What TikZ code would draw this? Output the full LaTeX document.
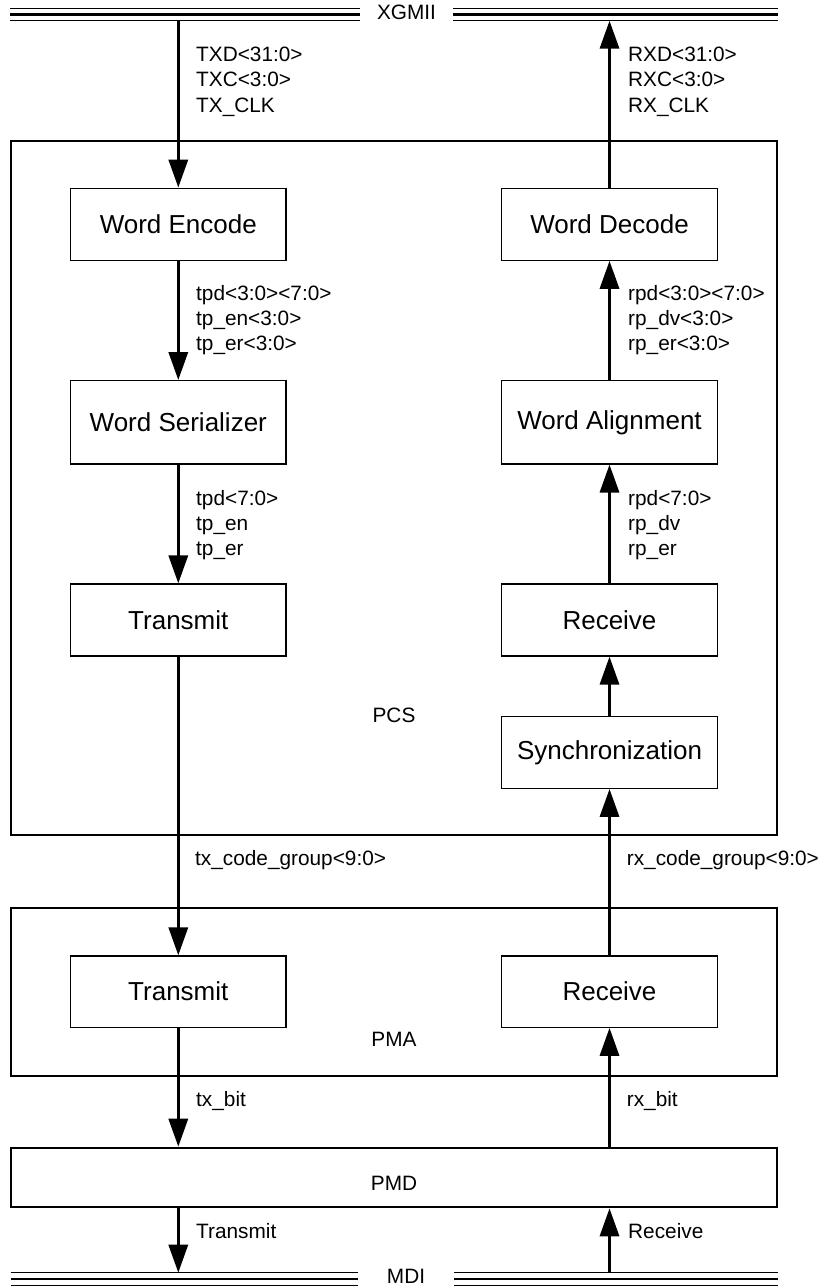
\documentclass[tikz,border=0pt]{standalone}
\usepackage{fontspec}
\setmainfont{Liberation Sans}
\usetikzlibrary{arrows.meta}
\begin{document}
\begin{tikzpicture}[x=1pt,y=-1pt,
  blk/.style={draw, line width=1.2pt, minimum width=215.5pt, minimum height=72pt,
              inner sep=0pt, font=\fontsize{26}{30}\selectfont},
  layer/.style={draw, line width=2pt, inner sep=0pt, minimum width=766.6pt},
  sigl/.style={anchor=base west, inner sep=0pt, font=\fontsize{20.8}{25}\selectfont},
  ttl/.style={anchor=base, inner sep=0pt, font=\fontsize{20.8}{25}\selectfont},
  sig/.style={line width=3.3pt, -{Triangle[length=28pt,width=19pt]}},
]
\useasboundingbox (0,0) rectangle (825,1287);

% interface buses (triple rails)
\foreach \yy/\w in {8.3/1.3, 14.7/2.7, 20.7/1.3}{
  \draw[line width=\w pt] (10,\yy) -- (360,\yy) (453.3,\yy) -- (778,\yy);
}
\foreach \yy/\w in {1272.7/1.3, 1279/2.7, 1285.3/1.3}{
  \draw[line width=\w pt] (10.7,\yy) -- (358.3,\yy) (454,\yy) -- (778.3,\yy);
}
\node[ttl] (xgmii) at (406.5,20) {XGMII};
\node[ttl] (mdi) at (406,1283.3) {MDI};
\coordinate (xgT) at (178.3,20.7);
\coordinate (xgR) at (609.5,20.7);
\coordinate (mdT) at (178.3,1272.7);
\coordinate (mdR) at (609.5,1272.7);

% layer frames
\node[layer, minimum height=694.3pt] (pcs) at (394,487.85) {};
\node[layer, minimum height=168pt] (pma) at (394,991.7) {};
\node[layer, minimum height=59.6pt] (pmd) at (394,1177.5) {};
\node[ttl] (pcsl) at (394,722.7) {PCS};
\node[ttl] (pmal) at (394,1046) {PMA};
\node[ttl] (pmdl) at (394,1190) {PMD};

% transmit path blocks
\node[blk] (we) at (178.3,224.2) {Word Encode};
\node[blk, minimum height=83.3pt] (ws) at (178.3,422.3) {Word Serializer};
\node[blk] (tp) at (178.3,620) {Transmit};
\node[blk, minimum height=71.3pt] (pT) at (178.3,991.6) {Transmit};

% receive path blocks
\node[blk] (wd) at (609.5,224.2) {Word Decode};
\node[blk, minimum height=83.3pt] (wa) at (609.5,422.3) {Word Alignment};
\node[blk] (rc) at (609.5,620) {Receive};
\node[blk] (sy) at (609.5,752.3) {Synchronization};
\node[blk, minimum height=71.3pt] (pR) at (609.5,991.6) {Receive};

% transmit connectors
\draw[sig] (xgT) -- (we.north);
\draw[sig] (we.south) -- (ws.north);
\draw[sig] (ws.south) -- (tp.north);
\draw[sig] (tp.south) -- (pT.north);
\draw[sig] (pT.south) -- (pT.south |- pmd.north);
\draw[sig] (pT.south |- pmd.south) -- (mdT);

% receive connectors
\draw[sig] (wd.north) -- (xgR);
\draw[sig] (wa.north) -- (wd.south);
\draw[sig] (rc.north) -- (wa.south);
\draw[sig] (sy.north) -- (rc.south);
\draw[sig] (pR.north) -- (sy.south);
\draw[sig] (pR.south |- pmd.north) -- (pR.south);
\draw[sig] (mdR) -- (pR.south |- pmd.south);

% transmit signal names
\node[sigl] (t1a) at (196,61.7) {TXD<31:0>};
\node[sigl] (t1b) at (196,87) {TXC<3:0>};
\node[sigl] (t1c) at (196,112.3) {TX\_CLK};
\node[sigl] (t2a) at (196,300) {tpd<3:0><7:0>};
\node[sigl] (t2b) at (196,325.4) {tp\_en<3:0>};
\node[sigl] (t2c) at (196,350.7) {tp\_er<3:0>};
\node[sigl] (t3a) at (196,505) {tpd<7:0>};
\node[sigl] (t3b) at (196,530) {tp\_en};
\node[sigl] (t3c) at (196,555) {tp\_er};
\node[sigl] (t4) at (195,865) {tx\_code\_group<9:0>};
\node[sigl] (t5) at (196,1106) {tx\_bit};
\node[sigl] (t6) at (196,1238) {Transmit};

% receive signal names
\node[sigl] (r1a) at (628,61.7) {RXD<31:0>};
\node[sigl] (r1b) at (628,87) {RXC<3:0>};
\node[sigl] (r1c) at (628,112.3) {RX\_CLK};
\node[sigl] (r2a) at (628,300) {rpd<3:0><7:0>};
\node[sigl] (r2b) at (628,325.4) {rp\_dv<3:0>};
\node[sigl] (r2c) at (628,350.7) {rp\_er<3:0>};
\node[sigl] (r3a) at (628,505) {rpd<7:0>};
\node[sigl] (r3b) at (628,530) {rp\_dv};
\node[sigl] (r3c) at (628,555) {rp\_er};
\node[sigl] (r4) at (626.7,865) {rx\_code\_group<9:0>};
\node[sigl] (r5) at (626.7,1106) {rx\_bit};
\node[sigl] (r6) at (628,1238) {Receive};
\end{tikzpicture}
\end{document}
